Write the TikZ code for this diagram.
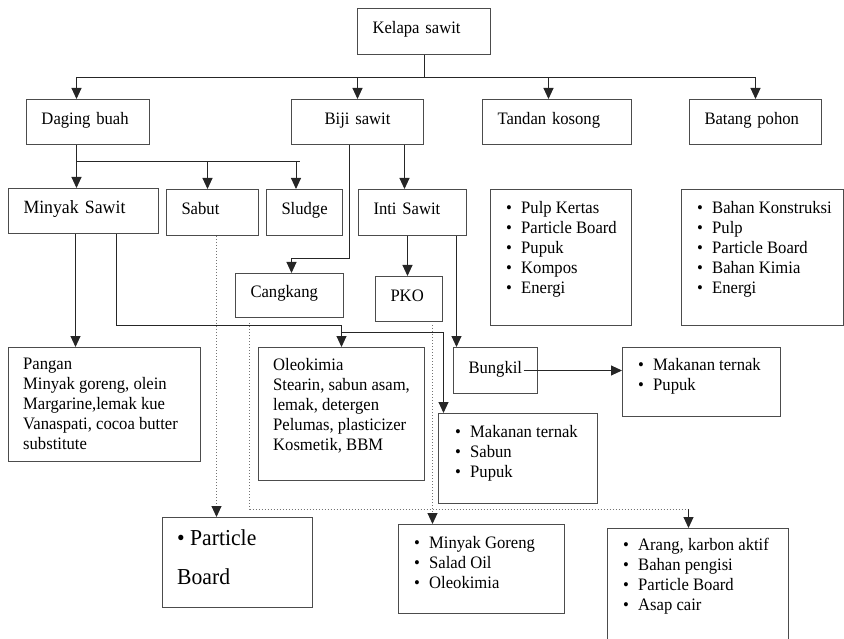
\documentclass[tikz,border=0pt]{standalone}
\usepackage{fontspec}
\setmainfont{Liberation Serif}[FakeStretch=0.95]
\usetikzlibrary{arrows.meta,positioning,calc}

\newcommand{\itm}[1]{\makebox[15pt][l]{\textbullet}#1}

\begin{document}
\begin{tikzpicture}[
  x=1pt, y=-1pt,
  font=\fontsize{17.5}{20}\selectfont,
  box/.style={draw=black!70, line width=1pt, anchor=north west, inner xsep=15pt, inner ysep=0pt, align=left, text height=12pt, text depth=7pt},
  listbox/.style={draw=black!70, line width=1pt, anchor=north west, inner sep=0pt},
  listtext/.style={anchor=north west, inner sep=0pt, align=left},
  arr/.style={draw=black!85, line width=1pt, -{Triangle[length=11pt,width=10pt]}},
  link/.style={draw=black!85, line width=1pt},
  dots/.style={draw=black!55, line width=1pt, dotted},
  dotarr/.style={dots, -{Triangle[length=11pt,width=10pt,color=black!85]}}
]
\useasboundingbox (0,0) rectangle (844,639);

% top levels
\node[box, text width=103pt, minimum height=46pt] (kelapa) at (357,8) {Kelapa sawit};
\node[box, text width=93pt, minimum height=45pt] (daging) at (26,99) {Daging buah};
\node[box, text width=102pt, minimum height=45pt, align=center] (biji) at (291,99) {Biji sawit};
\node[box, text width=119pt, minimum height=45pt] (tandan) at (482,99) {Tandan kosong};
\node[box, text width=102pt, minimum height=45pt] (batang) at (689,99) {Batang pohon};

% second level
\node[box, text width=120pt, minimum height=45pt, font=\fontsize{18.7}{20}\selectfont] (minyak) at (8,188) {Minyak Sawit};
\node[box, text width=62pt, minimum height=46pt] (sabut) at (166,189) {Sabut};
\node[box, text width=46pt, minimum height=46pt] (sludge) at (266,189) {Sludge};
\node[box, text width=78pt, minimum height=46pt] (inti) at (358,189) {Inti Sawit};
\node[box, text width=78pt, minimum height=44pt] (cangkang) at (235,273) {Cangkang};
\node[box, text width=37pt, minimum height=45pt] (pko) at (375,276) {PKO};
\node[box, text width=54pt, minimum height=46pt] (bungkil) at (453,347) {Bungkil};

% product boxes
\node[listbox, minimum width=141pt, minimum height=136pt] (tandanbox) at (490,189) {};
\node[listtext] (tandanlist) at ([xshift=16pt,yshift=-12pt]tandanbox.north west)
  {\itm{Pulp Kertas}\\\itm{Particle Board}\\\itm{Pupuk}\\\itm{Kompos}\\\itm{Energi}};
\node[listbox, minimum width=162pt, minimum height=136pt] (batangbox) at (681,189) {};
\node[listtext] (batanglist) at ([xshift=16pt,yshift=-12pt]batangbox.north west)
  {\itm{Bahan Konstruksi}\\\itm{Pulp}\\\itm{Particle Board}\\\itm{Bahan Kimia}\\\itm{Energi}};
\node[listbox, minimum width=192pt, minimum height=114pt] (panganbox) at (8,347) {};
\node[listtext] (panganlist) at ([xshift=15pt,yshift=-11pt]panganbox.north west)
  {Pangan\\Minyak goreng, olein\\Margarine,lemak kue\\Vanaspati, cocoa butter\\substitute};
\node[listbox, minimum width=166pt, minimum height=133pt] (oleobox) at (258,347) {};
\node[listtext] (oleolist) at ([xshift=15pt,yshift=-11pt]oleobox.north west)
  {Oleokimia\\Stearin, sabun asam,\\lemak, detergen\\Pelumas, plasticizer\\Kosmetik, BBM};
\node[listbox, minimum width=158pt, minimum height=69pt] (pakanbox) at (622,347) {};
\node[listtext] (pakanlist) at ([xshift=16pt,yshift=-11pt]pakanbox.north west)
  {\itm{Makanan ternak}\\\itm{Pupuk}};
\node[listbox, minimum width=159pt, minimum height=90pt] (sabunbox) at (438,413) {};
\node[listtext] (sabunlist) at ([xshift=17pt,yshift=-12pt]sabunbox.north west)
  {\itm{Makanan ternak}\\\itm{Sabun}\\\itm{Pupuk}};
\node[listbox, minimum width=150pt, minimum height=90pt] (particlebox) at (162,517) {};
\node[listtext, font=\fontsize{22.8}{39}\selectfont] (particlelist) at ([xshift=15pt,yshift=-12pt]particlebox.north west)
  {\textbullet{} Particle\\Board};
\node[listbox, minimum width=166pt, minimum height=89pt] (gorengbox) at (398,524) {};
\node[listtext] (gorenglist) at ([xshift=16pt,yshift=-12pt]gorengbox.north west)
  {\itm{Minyak Goreng}\\\itm{Salad Oil}\\\itm{Oleokimia}};
\node[listbox, minimum width=181pt, minimum height=125pt] (arangbox) at (607,528) {};
\node[listtext] (aranglist) at ([xshift=16pt,yshift=-10pt]arangbox.north west)
  {\itm{Arang, karbon aktif}\\\itm{Bahan pengisi}\\\itm{Particle Board}\\\itm{Asap cair}};

% connectors
\coordinate (bus) at ([yshift=-23pt]kelapa.south);
\draw[link] (kelapa.south) -- (bus);
\draw[arr] (bus) -| ([xshift=-11.5pt]daging.north);
\draw[arr] (bus) -| (biji.north);
\draw[arr] (bus) -| ([xshift=-8.5pt]tandan.north);
\draw[arr] (bus) -| (batang.north);

\coordinate (dj) at (76,162);
\draw[arr] ([xshift=-11.5pt]daging.south) -- ([xshift=-7pt]minyak.north);
\draw[link] (dj) -- ++(224,0);
\draw[arr] ([xshift=-5pt]sabut.north |- dj) -- ([xshift=-5pt]sabut.north);
\draw[arr] ([xshift=-8.5pt]sludge.north |- dj) -- ([xshift=-8.5pt]sludge.north);

\draw[arr] ([xshift=47pt]biji.south) -- ([xshift=-8pt]inti.north);
\draw[arr] ([xshift=-8pt]biji.south) -- ++(0,114) -| ([xshift=2pt]cangkang.north);
\draw[arr] ([xshift=-5pt]inti.south) -- ([xshift=-5pt]inti.south |- pko.north);
\draw[arr] ([xshift=44pt]inti.south) -- ([xshift=-39pt]bungkil.north);

\draw[arr] ([xshift=-8pt]minyak.south) -- ([xshift=-29pt]panganbox.north);
\draw[arr] ([xshift=33pt]minyak.south) -- ++(0,92) -| (oleobox.north);
\draw[arr] ([yshift=15pt]oleobox.north) -| ([xshift=-74.5pt]sabunbox.north);

\draw[arr] ([xshift=28pt]bungkil.center) -- (bungkil.center -| pakanbox.west);

\draw[dotarr] ([xshift=4pt]sabut.south) -- ([xshift=-21pt]particlebox.north);
\draw[dots] ([xshift=-40pt,yshift=-5pt]cangkang.south) |- ([xshift=-9.5pt,yshift=19pt]arangbox.north);
\draw[arr] ([xshift=-9.5pt,yshift=19pt]arangbox.north) -- ([xshift=-9.5pt]arangbox.north);
\draw[dotarr] ([xshift=23.5pt,yshift=-3pt]pko.south) -- ([xshift=-49pt]gorengbox.north);
\end{tikzpicture}
\end{document}
